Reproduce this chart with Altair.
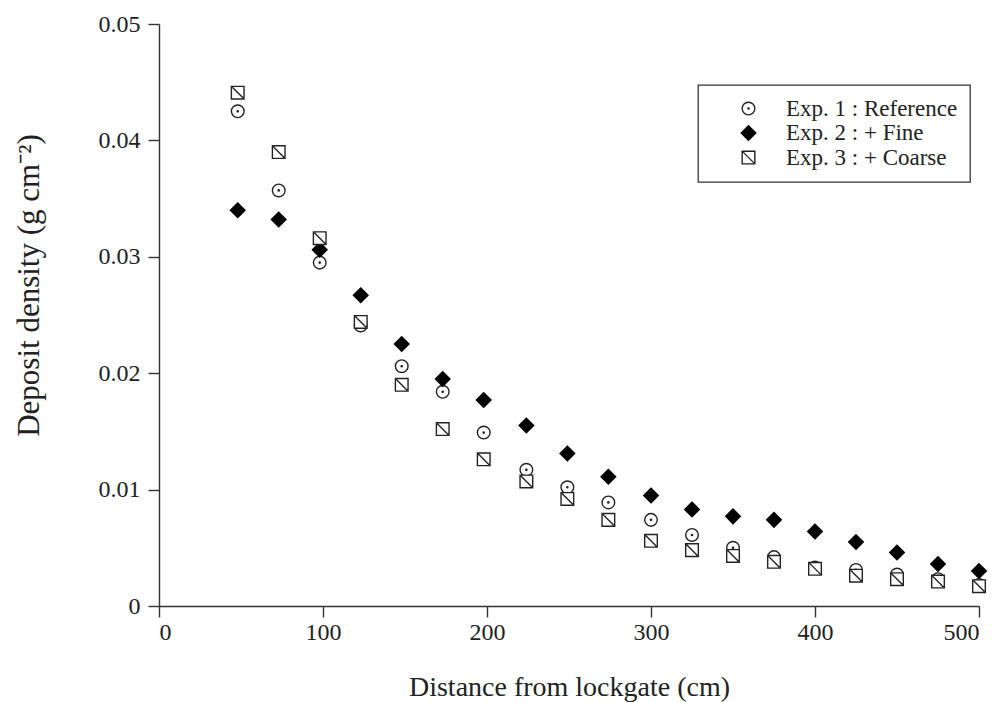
import altair as alt
import pandas as pd

distance = [48, 73, 98, 123, 148, 173, 198, 224, 249, 274, 300, 325, 350, 375, 400, 425, 450, 475, 500]
exp1_reference = [0.0425, 0.0357, 0.0295, 0.0241, 0.0206, 0.0184, 0.0149, 0.0117, 0.0102, 0.0089,
                  0.0074, 0.0061, 0.0050, 0.0042, 0.0033, 0.0031, 0.0027, 0.0023, 0.0018]
exp2_fine = [0.0340, 0.0332, 0.0306, 0.0267, 0.0225, 0.0195, 0.0177, 0.0155, 0.0131, 0.0111,
             0.0095, 0.0083, 0.0077, 0.0074, 0.0064, 0.0055, 0.0046, 0.0036, 0.0030]
exp3_coarse = [0.0441, 0.0390, 0.0316, 0.0244, 0.0190, 0.0152, 0.0126, 0.0107, 0.0092, 0.0074,
               0.0056, 0.0048, 0.0043, 0.0038, 0.0032, 0.0026, 0.0023, 0.0021, 0.0017]
series_names = ["Exp. 1 : Reference", "Exp. 2 : + Fine", "Exp. 3 : + Coarse"]
x_ticks = [0, 100, 200, 300, 400, 500]
y_ticks = [0, 0.01, 0.02, 0.03, 0.04, 0.05]

rows = []
for name, vals in zip(series_names, [exp1_reference, exp2_fine, exp3_coarse]):
    for d, v in zip(distance, vals):
        rows.append({"distance": d, "density": v, "series": name})
df = pd.DataFrame(rows)

circle_dot = "M-1,0A1,1,0,1,1,1,0A1,1,0,1,1,-1,0Z M-0.1,0A0.1,0.1,0,1,1,0.1,0A0.1,0.1,0,1,1,-0.1,0Z"
diamond = "M0,-1.15L1.15,0L0,1.15L-1.15,0Z"
square_diag = "M-1,-1H1V1H-1Z M-0.85,-0.85L0.85,0.85"

FONT = "Liberation Serif"
INK = "#222222"

chart = alt.Chart(df).mark_point(
    filled=True, strokeWidth=1.4, opacity=1, size=160
).encode(
    x=alt.X("distance:Q",
            scale=alt.Scale(domain=[0, 500], nice=False, zero=True),
            axis=alt.Axis(values=x_ticks, title="Distance from lockgate (cm)",
                          titlePadding=29, labelPadding=3)),
    y=alt.Y("density:Q",
            scale=alt.Scale(domain=[0, 0.05], nice=False),
            axis=alt.Axis(values=y_ticks, title="Deposit density (g cm⁻²)",
                          labelExpr="datum.value == 0 ? '0' : format(datum.value, '.2f')",
                          titlePadding=53, titleY=261, labelPadding=8,
                          titleFontSize=31)),
    shape=alt.Shape("series:N",
                    scale=alt.Scale(domain=series_names, range=[circle_dot, diamond, square_diag]),
                    legend=alt.Legend(title=None)),
    fill=alt.Fill("series:N",
                  scale=alt.Scale(domain=series_names, range=["#ffffff", "#000000", "#ffffff"]),
                  legend=alt.Legend(title=None)),
    stroke=alt.Stroke("series:N",
                      scale=alt.Scale(domain=series_names, range=[INK, "#000000", INK]),
                      legend=alt.Legend(title=None)),
).properties(
    width=820,
    height=582,
    autosize=alt.AutoSizeParams(type="none"),
    padding={"left": 159, "top": 24, "right": 18, "bottom": 96},
).configure_view(
    stroke=None
).configure_axis(
    grid=False,
    domainColor="#333333",
    domainWidth=1.4,
    tickColor="#333333",
    tickWidth=1.4,
    tickSize=11,
    labelFont=FONT,
    labelFontSize=24,
    labelColor=INK,
    titleFont=FONT,
    titleFontSize=28,
    titleFontWeight="normal",
    titleColor=INK,
).configure_legend(
    orient="none",
    legendX=539,
    legendY=61,
    strokeColor="#333333",
    strokeWidth=1.3,
    fillColor="#ffffff",
    padding=12,
    symbolOffset=27,
    labelOffset=26,
    labelFont=FONT,
    labelFontSize=23,
    labelColor=INK,
    labelLimit=400,
    rowPadding=0.5,
    symbolSize=160,
    symbolStrokeWidth=1.4,
)

chart.save("out.html", embed_options={"renderer": "svg", "actions": False})
